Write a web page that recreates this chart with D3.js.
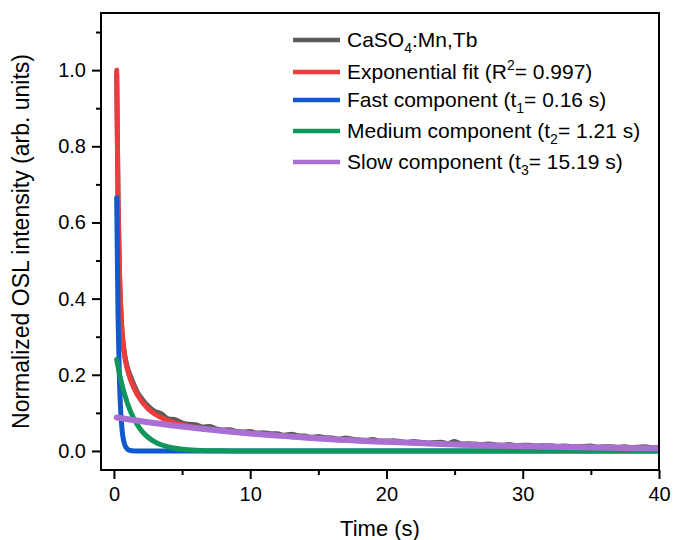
<!DOCTYPE html>
<html>
<head>
<meta charset="utf-8">
<script src="https://cdn.jsdelivr.net/npm/d3@7"></script>
<style>
  body { margin: 0; background: #fff; }
  svg { font-family: Arial, "Liberation Sans", sans-serif; }
</style>
</head>
<body>
<div id="chart"></div>
<script>
// chart size and frame
const width = 673
const height = 540
const margin = { top: 13, right: 14, bottom: 70, left: 101 }

// axes
const xDomain = [-0.95, 40]
const yDomain = [-0.05, 1.15]
const xTicks = [0, 10, 20, 30, 40]
const xMinorTicks = [5, 15, 25, 35]
const yTicks = [0.0, 0.2, 0.4, 0.6, 0.8, 1.0]
const yMinorTicks = [0.1, 0.3, 0.5, 0.7, 0.9, 1.1]
const xTitle = "Time (s)"
const yTitle = "Normalized OSL intensity (arb. units)"

// measured OSL decay (gray)
const dataT = [0.2, 0.3, 0.4, 0.5, 0.6, 0.8, 1.0, 1.25, 1.5, 1.75, 2.0, 2.5, 3.0, 3.5, 4.0, 4.5, 5.0, 5.5,
  6.0, 6.5, 7.0, 7.5, 8.0, 8.5, 9.0, 9.5, 10.0, 10.5, 11.0, 11.5, 12.0, 12.5, 13.0, 13.5, 14.0, 14.5,
  15.0, 15.5, 16.0, 16.5, 17.0, 17.5, 18.0, 18.5, 19.0, 19.5, 20.0, 20.5, 21.0, 21.5, 22.0, 22.5,
  23.0, 23.5, 24.0, 24.5, 25.0, 25.5, 26.0, 26.5, 27.0, 27.5, 28.0, 28.5, 29.0, 29.5, 30.0, 30.5,
  31.0, 31.5, 32.0, 32.5, 33.0, 33.5, 34.0, 34.5, 35.0, 35.5, 36.0, 36.5, 37.0, 37.5, 38.0, 38.5,
  39.0, 39.5, 40.0]
const dataI = [0.99, 0.66, 0.47, 0.37, 0.31, 0.25, 0.218, 0.193, 0.171, 0.152, 0.139, 0.118, 0.104, 0.097, 0.084, 0.082, 0.074, 0.070,
  0.069, 0.063, 0.064, 0.058, 0.055, 0.056, 0.051, 0.050, 0.051, 0.047, 0.048, 0.045, 0.045, 0.041, 0.044, 0.040, 0.039, 0.036,
  0.038, 0.035, 0.034, 0.031, 0.034, 0.031, 0.029, 0.028, 0.030, 0.026, 0.026, 0.027, 0.025, 0.022, 0.025, 0.023,
  0.021, 0.022, 0.023, 0.019, 0.025, 0.018, 0.019, 0.018, 0.017, 0.018, 0.016, 0.015, 0.017, 0.014, 0.015, 0.015,
  0.013, 0.014, 0.014, 0.012, 0.013, 0.012, 0.011, 0.012, 0.013, 0.010, 0.011, 0.011, 0.010, 0.011, 0.009, 0.010,
  0.011, 0.008, 0.009]

// exponential fit (red)
const fitT = [0.2, 0.3, 0.4, 0.5, 0.6, 0.8, 1.0, 1.5, 2.0, 2.5, 3.0, 4.0, 5.0, 6.0, 8.0, 10, 15, 20, 25, 30, 35, 40]
const fitI = [1.0, 0.664, 0.48, 0.376, 0.312, 0.246, 0.212, 0.163, 0.132, 0.111, 0.097, 0.079, 0.069, 0.062, 0.053, 0.046, 0.033, 0.024, 0.017, 0.0124, 0.009, 0.0064]

// fast component (blue)
const fastT = [0.2, 0.3, 0.4, 0.5, 0.6, 0.7, 0.8, 1.0, 1.2, 1.5, 2.0, 5, 10, 20, 30, 40]
const fastI = [0.665, 0.356, 0.19, 0.102, 0.054, 0.029, 0.0156, 0.0044, 0.0013, 0.0002, 0, 0, 0, 0, 0, 0]

// medium component (green)
const mediumT = [0.2, 0.5, 1.0, 1.5, 2.0, 2.5, 3.0, 4.0, 5.0, 6.0, 8.0, 10, 20, 30, 40]
const mediumI = [0.24, 0.187, 0.124, 0.082, 0.054, 0.036, 0.0237, 0.0104, 0.0046, 0.002, 0.0004, 0.0001, 0, 0, 0]

// slow component (purple)
const slowT = [0.2, 2, 5, 10, 15, 20, 25, 30, 35, 40]
const slowI = [0.088, 0.078, 0.064, 0.046, 0.033, 0.024, 0.017, 0.0124, 0.009, 0.0064]

const series = [
  { name: "data", t: dataT, v: dataI, color: "#5b5b5b", w: 5 },
  { name: "fit", t: fitT, v: fitI, color: "#ee3b3b", w: 5 },
  { name: "fast", t: fastT, v: fastI, color: "#1159cf", w: 5 },
  { name: "medium", t: mediumT, v: mediumI, color: "#0f9658", w: 5 },
  { name: "slow", t: slowT, v: slowI, color: "#a96fd3", w: 6 }
]

const svg = d3.select('#chart')
  .append('svg')
  .attr('width', width)
  .attr('height', height)

const xScale = d3.scaleLinear()
  .domain(xDomain)
  .range([margin.left, width - margin.right])

const yScale = d3.scaleLinear()
  .domain(yDomain)
  .range([height - margin.bottom, margin.top])

// clip so lines stay inside frame
svg.append('clipPath').attr('id', 'clip')
  .append('rect')
  .attr('x', margin.left).attr('y', margin.top)
  .attr('width', width - margin.left - margin.right)
  .attr('height', height - margin.top - margin.bottom)

const line = d3.line()
  .x(d => xScale(d[0]))
  .y(d => yScale(d[1]))
  .curve(d3.curveMonotoneX)

const plot = svg.append('g').attr('clip-path', 'url(#clip)')

series.forEach(s => {
  const pts = s.t.map((t, i) => [t, s.v[i]])
  plot.append('path')
    .datum(pts)
    .attr('fill', 'none')
    .attr('stroke', s.color)
    .attr('stroke-width', s.w)
    .attr('stroke-linejoin', 'round')
    .attr('stroke-linecap', 'round')
    .attr('d', line)
})

// axes
const xAxis = d3.axisBottom(xScale).tickValues(xTicks).tickSize(9).tickPadding(8).tickFormat(d3.format("d"))
const xMinor = d3.axisBottom(xScale).tickValues(xMinorTicks).tickSize(5).tickFormat("")
const yAxis = d3.axisLeft(yScale).tickValues(yTicks).tickSize(9).tickPadding(6).tickFormat(d3.format(".1f"))
const yMinor = d3.axisLeft(yScale).tickValues(yMinorTicks).tickSize(5).tickFormat("")

const styleAxis = g => {
  g.select('.domain').remove()
  g.selectAll('line').attr('stroke', '#000').attr('stroke-width', 2)
  g.selectAll('text').attr('font-size', 20).attr('fill', '#000')
    .attr('font-family', 'Arial, "Liberation Sans", sans-serif')
}

svg.append('g').attr('transform', 'translate(0,' + (height - margin.bottom) + ')').call(xAxis).call(styleAxis)
svg.append('g').attr('transform', 'translate(0,' + (height - margin.bottom) + ')').call(xMinor).call(styleAxis)
svg.append('g').attr('transform', 'translate(' + margin.left + ',0)').call(yAxis).call(styleAxis)
svg.append('g').attr('transform', 'translate(' + margin.left + ',0)').call(yMinor).call(styleAxis)

// frame
svg.append('rect')
  .attr('x', margin.left).attr('y', margin.top)
  .attr('width', width - margin.left - margin.right)
  .attr('height', height - margin.top - margin.bottom)
  .attr('fill', 'none').attr('stroke', '#000').attr('stroke-width', 2)

// axis titles
svg.append('text')
  .attr('x', (margin.left + width - margin.right) / 2)
  .attr('y', 536)
  .attr('text-anchor', 'middle')
  .attr('font-size', 22)
  .text(xTitle)

svg.append('text')
  .attr('transform', 'translate(29,' + ((margin.top + height - margin.bottom) / 2) + ') rotate(-90)')
  .attr('text-anchor', 'middle')
  .attr('font-size', 23)
  .text(yTitle)

// legend
const legend = [
  { color: "#5b5b5b", parts: [["CaSO", 0], ["4", 1], [":Mn,Tb", 0]] },
  { color: "#ee3b3b", parts: [["Exponential fit (R", 0], ["2", -1], ["= 0.997)", 0]] },
  { color: "#1159cf", parts: [["Fast component (t", 0], ["1", 1], ["= 0.16 s)", 0]] },
  { color: "#0f9658", parts: [["Medium component (t", 0], ["2", 1], ["= 1.21 s)", 0]] },
  { color: "#a96fd3", parts: [["Slow component (t", 0], ["3", 1], ["= 15.19 s)", 0]] }
]
const legendY = [40, 72, 100, 131, 162]

legend.forEach((item, i) => {
  const g = svg.append('g').attr('transform', 'translate(293,' + legendY[i] + ')')
  g.append('line')
    .attr('x1', 0).attr('x2', 47)
    .attr('stroke', item.color).attr('stroke-width', 4.5)
  const txt = g.append('text')
    .attr('x', 54).attr('y', 7)
    .attr('font-size', 21)
  item.parts.forEach(p => {
    const ts = txt.append('tspan').text(p[0])
    if (p[1] === 1) ts.attr('font-size', 14).attr('dy', 6)
    if (p[1] === -1) ts.attr('font-size', 14).attr('dy', -9)
    if (p[1] === 0 && txt.selectAll('tspan').size() > 1) {
      const prev = item.parts[txt.selectAll('tspan').size() - 2]
      if (prev[1] === 1) ts.attr('dy', -6)
      if (prev[1] === -1) ts.attr('dy', 9)
    }
  })
})
</script>
</body>
</html>
